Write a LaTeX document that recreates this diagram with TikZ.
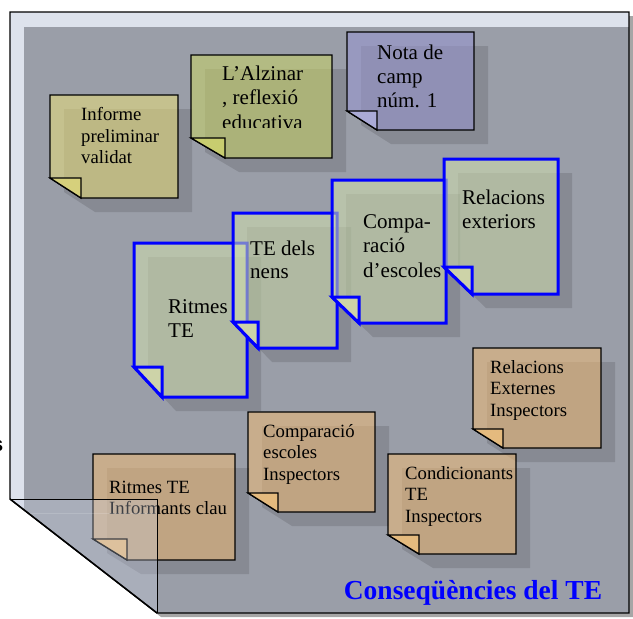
\documentclass[tikz,border=0pt]{standalone}
\usepackage{fontspec}
\setmainfont{Liberation Serif}
\newfontfamily\labelsans{Liberation Sans}

\definecolor{pagelight}{HTML}{DDE2EC}
\definecolor{pagegray}{HTML}{9A9EA8}
\definecolor{flapblue}{HTML}{CDD4E6}
\definecolor{oliveC}{HTML}{EADE79}
\definecolor{oliveF}{HTML}{D6D07C}
\definecolor{greenC}{HTML}{C9D365}
\definecolor{greenF}{HTML}{C8CD6F}
\definecolor{purpleC}{HTML}{9895D2}
\definecolor{purpleF}{HTML}{AAAAD6}
\definecolor{paleC}{HTML}{D2E1AF}
\definecolor{paleF}{HTML}{CDD3A8}
\definecolor{brownC}{HTML}{EFBB75}
\definecolor{brownF}{HTML}{E4BA7E}

\tikzset{
  noteshadow/.style={fill=black, fill opacity=0.12},
  note olive/.style={draw=black, line width=1.3, fill=oliveC, fill opacity=0.55},
  fold olive/.style={draw=black, line width=1.3, fill=oliveF},
  note green/.style={draw=black, line width=1.3, fill=greenC, fill opacity=0.55},
  fold green/.style={draw=black, line width=1.3, fill=greenF},
  note purple/.style={draw=black, line width=1.3, fill=purpleC, fill opacity=0.55},
  fold purple/.style={draw=black, line width=1.3, fill=purpleF},
  note pale/.style={draw=blue, line width=3, fill=paleC, fill opacity=0.55},
  fold pale/.style={draw=blue, line width=3, fill=paleF},
  note brown/.style={draw=black, line width=1.3, fill=brownC, fill opacity=0.55},
  fold brown/.style={draw=black, line width=1.3, fill=brownF},
  smalltext/.style={font=\fontsize{18.7}{21.7}\selectfont, inner sep=0pt, anchor=base west},
  bigtext/.style={font=\fontsize{21}{24.5}\selectfont, inner sep=0pt, anchor=base west}
}

% x1,y1,x2,y2,fold width,fold height,colour
\newcommand{\postit}[7]{%
  \fill[noteshadow] ({#1+14},{#2+14}) -- ({#3+14},{#2+14}) -- ({#3+14},{#4+14})
    -- ({#1+#5+14},{#4+14}) -- ({#1+14},{#4-#6+14}) -- cycle;
  \filldraw[note #7] (#1,#2) -- (#3,#2) -- (#3,#4) -- ({#1+#5},#4) -- (#1,{#4-#6}) -- cycle;
  \filldraw[fold #7] (#1,{#4-#6}) -- ({#1+#5},{#4-#6}) -- ({#1+#5},#4) -- cycle;
}
\newcommand{\notelines}[1]{\begin{tabular}[t]{@{}l@{}}#1\end{tabular}}

\begin{document}
\begin{tikzpicture}[x=1pt,y=-1pt]
\useasboundingbox (0,0) rectangle (633,619);

% the page
\fill[gray!70] (14,16) -- (633,16) -- (633,617) -- (161,617) -- (14,503) -- cycle;
\fill[pagelight] (10,12) -- (629,12) -- (629,613) -- (157,613) -- (10,499) -- cycle;
\fill[pagegray] (24,27) -- (629,27) -- (629,613) -- (157,613) -- (24,510) -- cycle;
\draw[line width=1.3] (10,12) -- (629,12) -- (629,613) -- (157,613) -- (10,499) -- cycle;

% top notes
\postit{50}{95}{178}{198}{31}{20}{olive}
\node[smalltext] (informe) at (81,120.5) {\notelines{Informe\\preliminar\\validat}};

\postit{191}{55}{332}{158}{34}{20}{green}
\begin{scope}
  \clip (191,55) rectangle (332,127);
  \node[bigtext] (alzinar) at (222,80) {\notelines{L’Alzinar\\, reflexió\\educativa}};
\end{scope}

\postit{347}{32}{474}{130}{30}{19}{purple}
\node[bigtext, font=\fontsize{21}{24}\selectfont] (nota) at (377,59) {\notelines{Nota de\\camp\\núm. 1}};

% blue notes
\postit{134}{243}{247}{397}{28}{30}{pale}
\node[bigtext] (ritmes) at (168,313) {\notelines{Ritmes\\TE}};

\postit{233}{213}{337}{348}{25}{26}{pale}
\node[bigtext, font=\fontsize{21}{23.5}\selectfont] (nens) at (250,255) {\notelines{TE dels\\nens}};

\postit{332}{180}{446}{323}{27}{26}{pale}
\node[bigtext] (comparacio) at (363,228) {\notelines{Compa-\\ració\\d’escoles}};

\postit{444}{159}{558}{294}{28}{27}{pale}
\node[bigtext] (exteriors) at (462,204) {\notelines{Relacions\\exteriors}};

% inspectors notes
\postit{248}{412}{375}{512}{30}{19}{brown}
\node[smalltext] (compinsp) at (263,437) {\notelines{Comparació\\escoles\\Inspectors}};

\postit{473}{348}{601}{448}{30}{19}{brown}
\node[smalltext] (relinsp) at (490,373) {\notelines{Relacions\\Externes\\Inspectors}};

\postit{388}{454}{516}{554}{31}{19}{brown}
\node[smalltext] (condinsp) at (405,479) {\notelines{Condicionants\\TE\\Inspectors}};

\postit{93}{454}{235}{560}{34}{21}{brown}
\node[smalltext] (informants) at (109,493) {\notelines{Ritmes TE\\Informants clau}};

% folded corner
\fill[flapblue, fill opacity=0.3] (10,499) -- (157,499) -- (157,613) -- cycle;
\draw[white, opacity=0.15] (24,513) -- (157,513);
\draw[line width=1] (10,499) -- (157,499) -- (157,613);
\draw[line width=1.5] (10,499) -- (157,613);

\node[font=\bfseries\fontsize{27.5}{30}\selectfont, text=blue, anchor=base, inner sep=0pt] (titol) at (473,599) {Conseqüències del TE};
\node[font=\labelsans\bfseries\fontsize{21}{24}\selectfont, anchor=base east, inner sep=0pt] (tall) at (3.5,451) {s};
\end{tikzpicture}
\end{document}
